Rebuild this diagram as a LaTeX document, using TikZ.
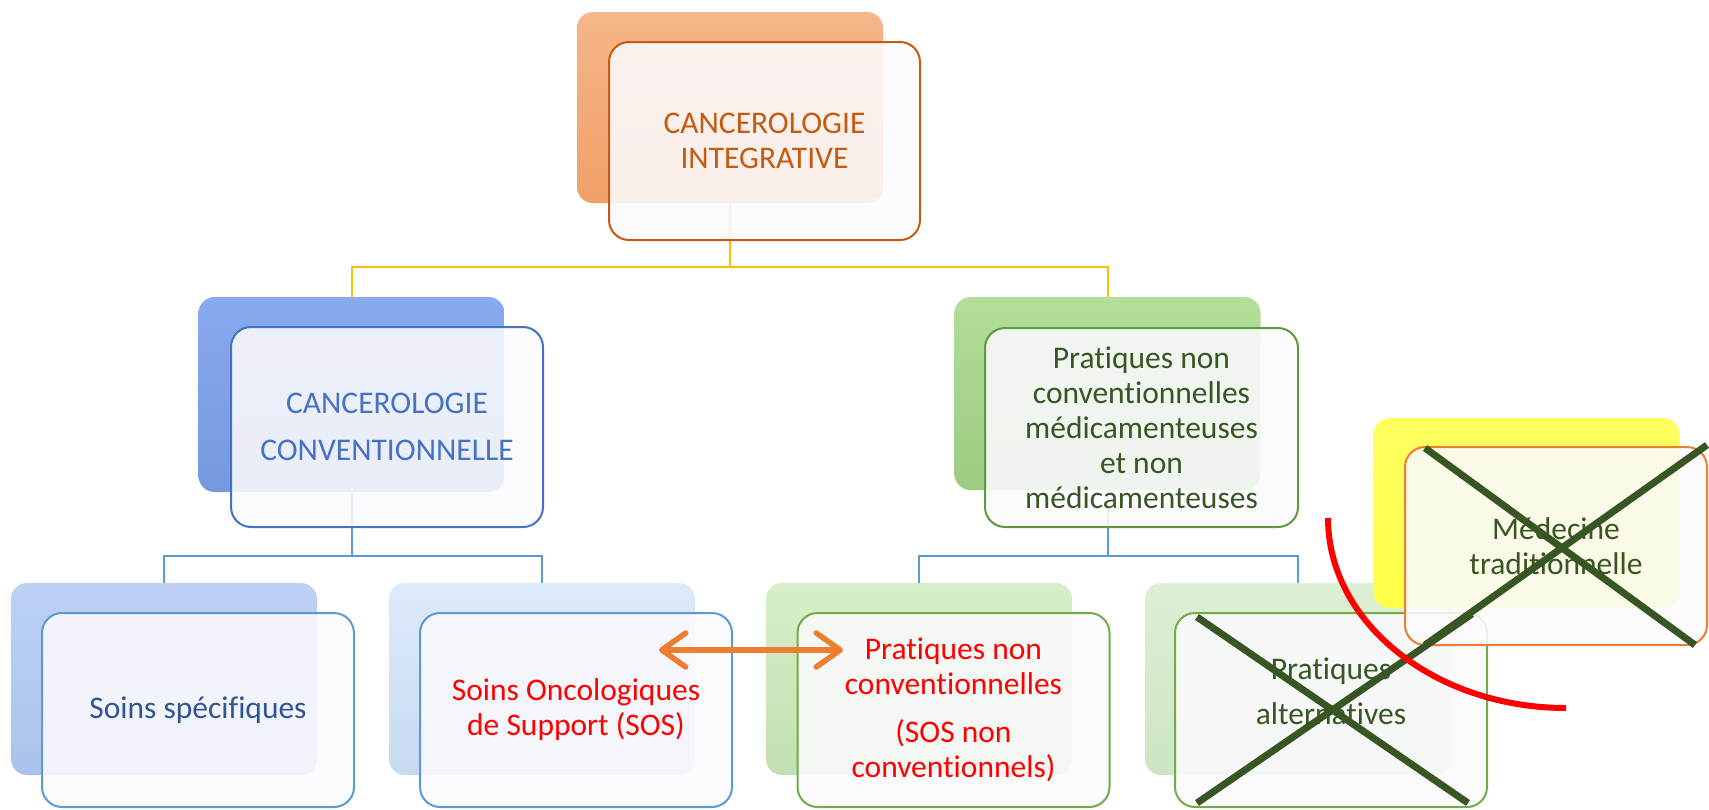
\documentclass[tikz,border=0pt]{standalone}
\usepackage{fontspec}
\setmainfont{Carlito}[Ligatures=NoCommon]
\usetikzlibrary{arrows.meta}
\pgfdeclarelayer{bg}
\pgfsetlayers{bg,main}
\definecolor{orTop}{HTML}{F6B688}
\definecolor{orBot}{HTML}{F0A068}
\definecolor{blTop}{HTML}{88AAEE}
\definecolor{blBot}{HTML}{7499DE}
\definecolor{grTop}{HTML}{B2DE98}
\definecolor{grBot}{HTML}{9CCB82}
\definecolor{lbTop}{HTML}{BDD1F5}
\definecolor{lbBot}{HTML}{ABC2EC}
\definecolor{llbTop}{HTML}{DDEBFB}
\definecolor{llbBot}{HTML}{C8D9F1}
\definecolor{lgTop}{HTML}{D6EFC8}
\definecolor{lgBot}{HTML}{C2E0B1}
\definecolor{llgTop}{HTML}{DDEFD4}
\definecolor{llgBot}{HTML}{CDE5C3}
\definecolor{yeTop}{HTML}{FFFF60}
\definecolor{yeBot}{HTML}{FFFF48}
\definecolor{frontfill}{HTML}{FBFAFD}
\definecolor{orLine}{HTML}{C55A11}
\definecolor{blLine}{HTML}{4472C4}
\definecolor{grLine}{HTML}{5E9A3E}
\definecolor{skyLine}{HTML}{5B9BD5}
\definecolor{lgLine}{HTML}{70AD47}
\definecolor{orange2}{HTML}{ED7D31}
\definecolor{darkgreen}{HTML}{375623}
\definecolor{navy}{HTML}{2F5597}
\definecolor{ylwLine}{HTML}{FFC000}
\definecolor{pureRed}{HTML}{FF0000}
\newcommand\mytxt{\fontsize{31.5}{35}\selectfont}
\begin{document}
\begin{tikzpicture}[x=1pt,y=-1pt,
  backbox/.style={rounded corners=16pt, inner sep=0pt, outer sep=0pt, draw=none,
    minimum width=306pt, minimum height=192pt},
  frontbox/.style={rounded corners=20pt, draw, line width=2pt, fill=frontfill,
    fill opacity=0.88, text opacity=1, inner sep=0pt, outer sep=0pt,
    align=center, font=\mytxt, minimum width=312pt, minimum height=196pt},
  ylw/.style={draw=ylwLine, line width=2pt},
  blu/.style={draw=skyLine, line width=2pt},
  cross/.style={draw=darkgreen, line width=7pt},
  twoarrow/.style={draw=orange2, line width=5.5pt,
    arrows={Straight Barb[length=24pt,width=34pt,round]-Straight Barb[length=24pt,width=34pt,round]}}
]
\useasboundingbox (0,0) rectangle (1709,809);

% back boxes
\node[backbox, top color=orTop, bottom color=orBot, minimum height=191pt] (topB) at (730,107.5) {};
\node[backbox, top color=blTop, bottom color=blBot, minimum height=195pt] (leftB) at (351.5,394.5) {};
\node[backbox, top color=grTop, bottom color=grBot, minimum height=193pt] (rightB) at (1107.5,393.5) {};
\node[backbox, top color=lbTop, bottom color=lbBot] (c1B) at (164,679) {};
\node[backbox, top color=llbTop, bottom color=llbBot] (c2B) at (542,679) {};
\node[backbox, top color=lgTop, bottom color=lgBot] (c3B) at (919,679) {};
\node[backbox, top color=llgTop, bottom color=llgBot] (c4B) at (1298,679) {};
\node[backbox, top color=yeTop, bottom color=yeBot, minimum height=190pt] (medB) at (1526.5,513) {};

% front boxes
\node[frontbox, draw=orLine, text=orLine, minimum width=311pt, minimum height=198pt] (topF) at (764.5,141)
  {CANCEROLOGIE\\INTEGRATIVE};
\node[frontbox, draw=blLine, text=blLine, minimum height=200pt] (leftF) at (387,427)
  {CANCEROLOGIE\\[12pt]CONVENTIONNELLE};
\node[frontbox, draw=grLine, text=darkgreen, minimum width=313pt, minimum height=199pt] (rightF) at (1141.5,427.5)
  {\fontsize{31.5}{37}\selectfont Pratiques non\\conventionnelles\\médicamenteuses\\et non\\médicamenteuses};
\node[frontbox, draw=skyLine, text=navy, minimum height=194pt] (c1F) at (198,710) {Soins spécifiques};
\node[frontbox, draw=skyLine, text=pureRed, minimum height=194pt] (c2F) at (576,710)
  {Soins Oncologiques\\de Support (SOS)};
\node[frontbox, draw=lgLine, text=pureRed, minimum height=194pt] (c3F) at (953.5,710)
  {Pratiques non\\conventionnelles\\[13pt](SOS non\\conventionnels)};
\node[frontbox, draw=lgLine, minimum height=194pt] (c4F) at (1331,710) {};
\node[font=\mytxt, text=darkgreen, align=center, inner sep=0pt] (c4T) at (1331,691)
  {Pratiques\\[10pt]alternatives};
\node[frontbox, draw=orange2, text=darkgreen, minimum width=302pt, minimum height=198pt] (medF) at (1556,546)
  {\fontsize{31.5}{33}\selectfont Médecine\\traditionnelle};

% connectors (behind)
\coordinate (j1) at (730,267);
\coordinate (j2) at (351.5,556);
\coordinate (j3) at (1107.5,556);
\begin{pgfonlayer}{bg}
\draw[ylw] (topB.south) -- (j1);
\draw[ylw] (leftB.north) |- (j1) -| (rightB.north);
\draw[blu] (leftB.south) -- (j2);
\draw[blu] (c1B.north) |- (j2) -| (c2B.north);
\draw[blu] (rightB.south) -- (j3);
\draw[blu] (c3B.north) |- (j3) -| (c4B.north);
\end{pgfonlayer}

% double arrow between SOS boxes
\coordinate (aL) at (659,650);
\coordinate (aR) at (843,650);
\draw[twoarrow] (aL) -- (aR);

% crosses
\coordinate (x1a) at (1197,617);
\coordinate (x1b) at (1468,803);
\coordinate (x1c) at (1197,803);
\coordinate (x1d) at (1472,614);
\draw[cross] (x1a) -- (x1b);
\draw[cross] (x1c) -- (x1d);
\coordinate (x2a) at (1425,448);
\coordinate (x2b) at (1695,645);
\coordinate (x2c) at (1425,645);
\coordinate (x2d) at (1707,445);
\draw[cross] (x2a) -- (x2b);
\draw[cross] (x2c) -- (x2d);

% red arc
\coordinate (r1) at (1328,518);
\coordinate (r2) at (1566,708);
\draw[draw=pureRed, line width=6pt] (r1) .. controls (1328,623) and (1435,708) .. (r2);
\end{tikzpicture}
\end{document}
